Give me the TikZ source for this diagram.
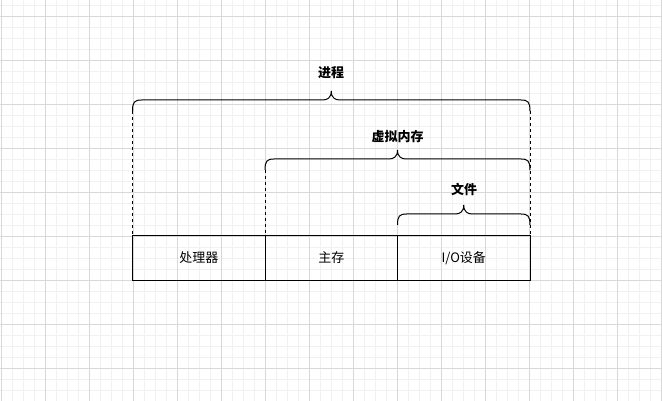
\documentclass[tikz,border=0pt]{standalone}
\usepackage{fontspec}
\newfontfamily\cjk{Noto Sans CJK SC}
\definecolor{gridminor}{HTML}{F1F1F1}
\definecolor{gridmajor}{HTML}{D8D8D8}
\tikzset{
  cell/.style={draw=black, line width=1pt, minimum width=132.5pt, minimum height=44pt,
    inner sep=0pt, outer sep=0pt, font=\cjk\fontsize{13}{15}\selectfont, anchor=north west},
  bracelabel/.style={font=\cjk\bfseries\fontsize{13}{15}\selectfont, inner sep=0pt},
  bracket/.style={draw=black, line width=1pt},
  guide/.style={draw=black, line width=0.9pt, dash pattern=on 3pt off 3pt},
}
% curly bracket opening downwards: #1 left x, #2 right x, #3 baseline y
\newcommand{\curlybrace}[3]{%
  \pgfmathsetmacro{\bmid}{(#1+#2)/2}%
  \draw[bracket] (#1,#3+11) .. controls (#1,#3+2) and (#1+2,#3) .. (#1+9,#3)
    -- (\bmid-9,#3) .. controls (\bmid-4,#3) and (\bmid,#3-2) .. (\bmid,#3-9)
    .. controls (\bmid,#3-2) and (\bmid+4,#3) .. (\bmid+9,#3)
    -- (#2-9,#3) .. controls (#2-2,#3) and (#2,#3+2) .. (#2,#3+11);}
\begin{document}
\begin{tikzpicture}[x=1pt, y=-1pt]
  \useasboundingbox (0,0) rectangle (662,401);
  \fill[white] (0,0) rectangle (662,401);
  % background grid
  \foreach \g in {1,12,...,661} \draw[gridminor, line width=0.6pt] (\g,0) -- (\g,401);
  \foreach \g in {5,16,...,400} \draw[gridminor, line width=0.6pt] (0,\g) -- (662,\g);
  \foreach \g in {1,45,...,661} \draw[gridmajor, line width=0.7pt] (\g,0) -- (\g,401);
  \foreach \g in {16,60,...,400} \draw[gridmajor, line width=0.7pt] (0,\g) -- (662,\g);

  % the three resources
  \node[cell] (cpu) at (132.5,236) {处理器};
  \node[cell] (mem) at (cpu.north east) {主存};
  \node[cell] (io) at (mem.north east) {I/O设备};

  % brackets
  \curlybrace{132.5}{530}{100}
  \curlybrace{265}{530}{159}
  \curlybrace{397.5}{530}{214}

  \node[bracelabel] (proc) at (331,73) {进程};
  \node[bracelabel] (vm) at (397.5,137) {虚拟内存};
  \node[bracelabel] (file) at (464,189) {文件};

  % dashed guides from bracket ends down to the boxes
  \coordinate (pl) at (132.5,111);
  \coordinate (pr) at (530,111);
  \coordinate (vl) at (265,170);
  \draw[guide] (pl) -- (cpu.north west);
  \draw[guide] (pr) -- (io.north east);
  \draw[guide] (vl) -- (mem.north west);
\end{tikzpicture}
\end{document}
